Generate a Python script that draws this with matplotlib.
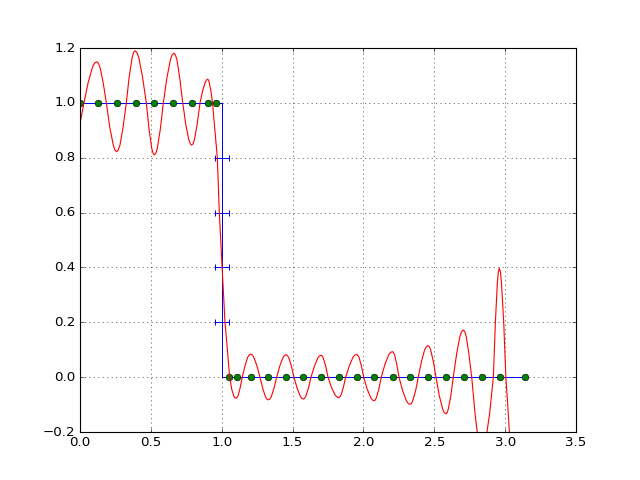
import matplotlib
matplotlib.use("Agg")
import matplotlib.pyplot as plt

plt.style.use("classic")

# step outline
step_x=[0.0,1.0,1.0,3.14]
step_y=[1.0,1.0,0.0,0.0]

# error bars on the vertical part
err_x=[1.0,1.0,1.0,1.0]
err_y=[0.2,0.4,0.6,0.8]
err_dx=0.05

# sample points (green)
pts_x=[0.0,0.125,0.259,0.393,0.525,0.659,0.793,0.906,0.958,
       1.051,1.105,1.209,1.329,1.454,1.576,1.703,1.830,1.955,
       2.077,2.206,2.331,2.458,2.585,2.712,2.839,2.966,3.140]
pts_y=[1.0]*9+[0.0]*18

# red curve
curve_x=[0.0,0.028,0.058,0.088,0.103,0.118,0.129,0.141,0.163,0.186,0.210,
         0.235,0.247,0.259,0.270,0.282,0.304,0.327,0.347,0.368,0.378,0.388,
         0.401,0.415,0.441,0.468,0.487,0.506,0.515,0.525,0.536,0.546,0.567,
         0.588,0.613,0.638,0.650,0.663,0.673,0.684,0.704,0.725,0.746,0.767,
         0.778,0.788,0.798,0.808,0.827,0.847,0.865,0.883,0.892,0.901,0.907,
         0.912,0.924,0.935,0.952,0.969,0.983,1.003,1.023,1.040,1.056,1.071,
         1.086,1.093,1.101,1.108,1.116,1.130,1.145,1.165,1.184,1.194,1.204,
         1.215,1.226,1.248,1.270,1.290,1.309,1.319,1.329,1.339,1.349,1.368,
         1.388,1.410,1.432,1.443,1.454,1.463,1.473,1.491,1.510,1.532,1.554,
         1.565,1.576,1.585,1.594,1.612,1.630,1.654,1.677,1.689,1.701,1.709,
         1.717,1.734,1.750,1.775,1.800,1.813,1.825,1.833,1.842,1.858,1.875,
         1.901,1.926,1.939,1.952,1.960,1.969,1.985,2.002,2.026,2.051,2.063,
         2.075,2.084,2.092,2.109,2.126,2.152,2.178,2.191,2.204,2.212,2.220,
         2.235,2.251,2.277,2.303,2.316,2.329,2.339,2.348,2.368,2.387,2.410,
         2.432,2.444,2.455,2.465,2.474,2.493,2.512,2.535,2.559,2.570,2.582,
         2.591,2.599,2.617,2.634,2.658,2.681,2.693,2.705,2.715,2.725,2.744,
         2.764,2.788,2.811,2.823,2.835,2.849,2.862,2.890,2.917,2.931,2.945,
         2.952,2.959,2.967,2.974,2.990,3.005,3.018,3.030,3.050]
curve_y=[0.925,1.0,1.075,1.130,1.145,1.150,1.145,1.130,1.075,1.0,0.911,
         0.846,0.828,0.822,0.828,0.846,0.911,1.0,1.095,1.165,1.184,1.190,
         1.184,1.165,1.095,1.0,0.905,0.835,0.817,0.810,0.817,0.835,0.905,
         1.0,1.090,1.157,1.175,1.181,1.175,1.157,1.090,1.0,0.923,0.867,
         0.851,0.846,0.851,0.867,0.923,1.0,1.043,1.074,1.083,1.086,1.083,
         1.074,1.043,1.0,0.90,0.80,0.60,0.40,0.20,0.10,0.0,-0.045,
         -0.070,-0.075,-0.077,-0.074,-0.067,-0.039,0.0,0.042,0.073,0.081,0.084,
         0.081,0.073,0.042,0.0,-0.042,-0.072,-0.080,-0.083,-0.080,-0.072,-0.042,
         0.0,0.041,0.071,0.079,0.082,0.079,0.071,0.041,0.0,-0.040,-0.069,
         -0.077,-0.080,-0.077,-0.069,-0.040,0.0,0.040,0.069,0.077,0.080,0.077,
         0.069,0.040,0.0,-0.038,-0.065,-0.072,-0.075,-0.072,-0.065,-0.038,0.0,
         0.042,0.072,0.080,0.083,0.080,0.072,0.042,0.0,-0.043,-0.074,-0.083,
         -0.086,-0.083,-0.074,-0.043,0.0,0.047,0.081,0.090,0.093,0.090,0.081,
         0.047,0.0,-0.050,-0.086,-0.096,-0.099,-0.096,-0.086,-0.050,0.0,0.058,
         0.100,0.111,0.115,0.111,0.100,0.058,0.0,-0.067,-0.116,-0.129,-0.134,
         -0.129,-0.116,-0.067,0.0,0.086,0.149,0.166,0.172,0.166,0.149,0.086,
         0.0,-0.135,-0.234,-0.261,-0.270,-0.261,-0.234,-0.135,0.0,0.199,0.344,
         0.383,0.397,0.383,0.344,0.199,0.0,-0.10,-0.20,-0.40]

fig=plt.figure(figsize=(8,6),dpi=80)
ax=fig.add_subplot(111)

ax.set_axisbelow(True)
ax.grid(True)

ax.plot(step_x,step_y,color="b",lw=0.9)
ax.errorbar(err_x,err_y,xerr=err_dx,fmt="none",ecolor="b",
            elinewidth=0.9,capsize=3,capthick=0.9)
ax.plot(pts_x,pts_y,"o",color="g",markeredgecolor="k",markeredgewidth=0.5)
ax.plot(curve_x,curve_y,color="r")

ax.set_xlim(0,3.5)
ax.set_ylim(-0.2,1.2)

fig.savefig("out.png",dpi=80)
